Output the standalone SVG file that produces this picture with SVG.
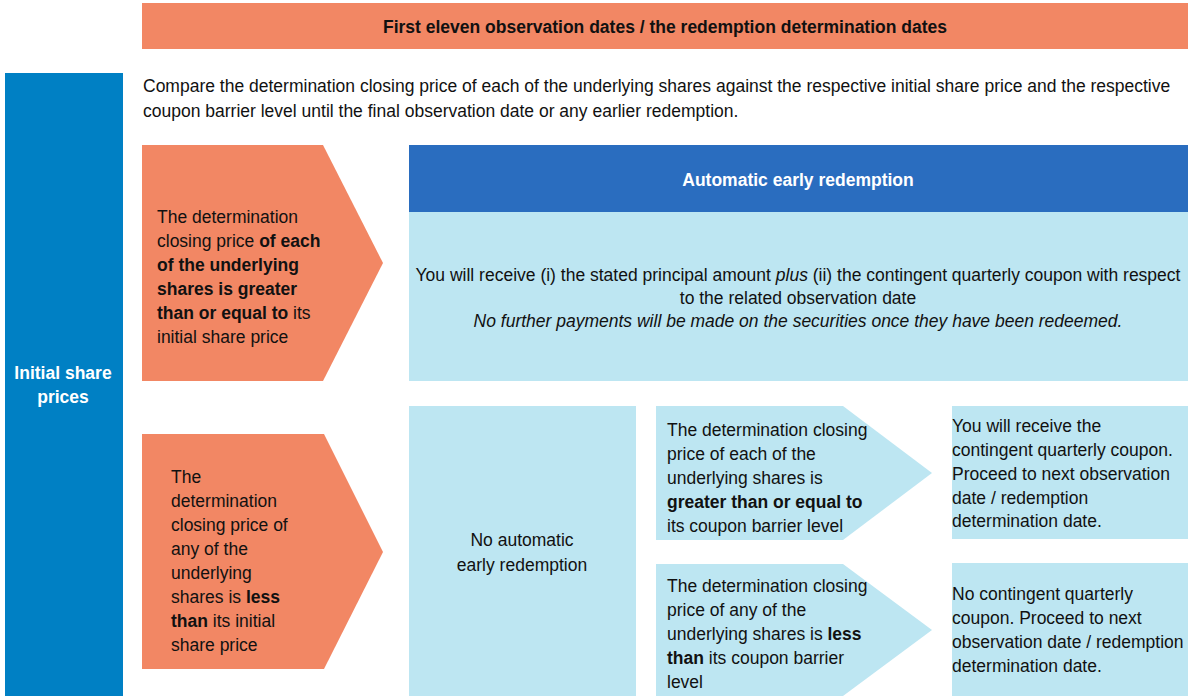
<svg xmlns="http://www.w3.org/2000/svg" width="1188" height="696" viewBox="0 0 1188 696">
  <style>
    text { font-family: "Liberation Sans", Arial, sans-serif; font-size: 17.5px; fill: #111; }
    .b { font-weight: bold; }
    .i { font-style: italic; }
    .w { fill: #ffffff; }
    .c { text-anchor: middle; }
    .orange { fill: #F28764; }
    .lblue { fill: #BDE6F2; }
    .dblue { fill: #2A6DBF; }
    .mblue { fill: #0080C4; }
  </style>
  <rect width="1188" height="696" fill="#ffffff"/>

  <g id="banner">
    <rect class="orange" x="142" y="3" width="1046" height="46"/>
    <text class="b c" x="665" y="33">First eleven observation dates / the redemption determination dates</text>
  </g>

  <g id="initial-share-prices">
    <rect class="mblue" x="5" y="73" width="118" height="623"/>
    <text class="b c w" x="63" y="379">Initial share</text>
    <text class="b c w" x="63" y="403">prices</text>
  </g>

  <g id="compare-text">
    <text x="143" y="92">Compare the determination closing price of each of the underlying shares against the respective initial share price and the respective</text>
    <text x="143" y="117">coupon barrier level until the final observation date or any earlier redemption.</text>
  </g>

  <g id="cond-greater">
    <polygon class="orange" points="142,145 323,145 383,263 323,381 142,381"/>
    <text x="157" y="223">The determination</text>
    <text x="157" y="247">closing price <tspan class="b">of each</tspan></text>
    <text class="b" x="157" y="271">of the underlying</text>
    <text class="b" x="157" y="295">shares is greater</text>
    <text x="157" y="319"><tspan class="b">than or equal to</tspan> its</text>
    <text x="157" y="343">initial share price</text>
  </g>

  <g id="cond-less">
    <polygon class="orange" points="142,434 324,434 383,552 324,669 142,669"/>
    <text x="171" y="483">The</text>
    <text x="171" y="507">determination</text>
    <text x="171" y="531">closing price of</text>
    <text x="171" y="555">any of the</text>
    <text x="171" y="579">underlying</text>
    <text x="171" y="603">shares is <tspan class="b">less</tspan></text>
    <text x="171" y="627"><tspan class="b">than</tspan> its initial</text>
    <text x="171" y="651">share price</text>
  </g>

  <g id="auto-redemption">
    <rect class="dblue" x="409" y="145" width="779" height="67"/>
    <text class="b c w" x="798" y="186">Automatic early redemption</text>
    <rect class="lblue" x="409" y="212" width="779" height="169"/>
    <text class="c" x="798" y="281">You will receive (i) the stated principal amount <tspan class="i">plus</tspan> (ii) the contingent quarterly coupon with respect</text>
    <text class="c" x="798" y="304">to the related observation date</text>
    <text class="c i" x="798" y="327">No further payments will be made on the securities once they have been redeemed.</text>
  </g>

  <g id="no-auto-redemption">
    <rect class="lblue" x="409" y="406" width="227" height="290"/>
    <text class="c" x="522" y="546">No automatic</text>
    <text class="c" x="522" y="571">early redemption</text>
  </g>

  <g id="coupon-greater">
    <polygon class="lblue" points="656,406 843,406 932,473 843,540 656,540"/>
    <text x="667" y="436">The determination closing</text>
    <text x="667" y="460">price of each of the</text>
    <text x="667" y="484">underlying shares is</text>
    <text class="b" x="667" y="508">greater than or equal to</text>
    <text x="667" y="532">its coupon barrier level</text>
  </g>

  <g id="coupon-less">
    <polygon class="lblue" points="656,564 843,564 932,630 843,696 656,696"/>
    <text x="667" y="592">The determination closing</text>
    <text x="667" y="616">price of any of the</text>
    <text x="667" y="640">underlying shares is <tspan class="b">less</tspan></text>
    <text x="667" y="664"><tspan class="b">than</tspan> its coupon barrier</text>
    <text x="667" y="688">level</text>
  </g>

  <g id="result-coupon">
    <rect class="lblue" x="952" y="406" width="236" height="133"/>
    <text x="952" y="432">You will receive the</text>
    <text x="952" y="456">contingent quarterly coupon.</text>
    <text x="952" y="480">Proceed to next observation</text>
    <text x="952" y="504">date / redemption</text>
    <text x="952" y="527">determination date.</text>
  </g>

  <g id="result-no-coupon">
    <rect class="lblue" x="952" y="563" width="236" height="133"/>
    <text x="952" y="600">No contingent quarterly</text>
    <text x="952" y="624">coupon. Proceed to next</text>
    <text x="952" y="648">observation date / redemption</text>
    <text x="952" y="672">determination date.</text>
  </g>

  <g id="connectors"/>
</svg>
